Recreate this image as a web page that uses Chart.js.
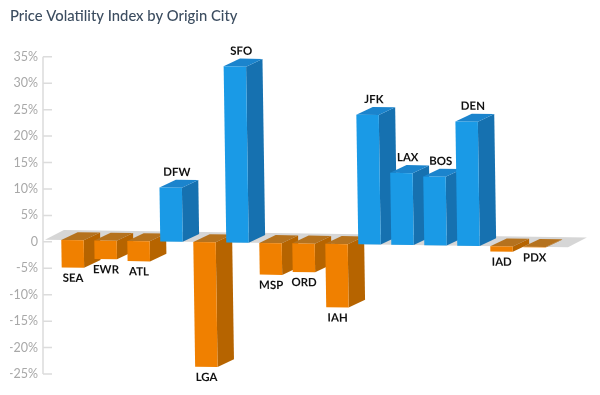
<!DOCTYPE html>
<html><head><meta charset="utf-8">
<style>html,body{margin:0;padding:0;background:#fff}#w{width:600px;height:395px;position:relative}</style>
<script src="https://cdn.jsdelivr.net/npm/chart.js@4"></script></head>
<body><div id="w"><canvas id="c" width="600" height="395"></canvas></div>
<script>
const cities = ['SEA','EWR','ATL','DFW','LGA','SFO','MSP','ORD','IAH','JFK','LAX','BOS','DEN','IAD','PDX'];
const volatility = [-5.2,-3.5,-3.8,10.2,-23.6,33.3,-6,-5.4,-12,24.5,13.6,13,23.5,-1,-0.1];
const titleText = 'Price Volatility Index by Origin City';
const FONT = 'Lato, "Open Sans", sans-serif';
const DX = 16.5, DY = 8;
const pos = {front:'#1a9ae6', side:'#1671b0', top:'#1b84cd'};
const neg = {front:'#f08000', side:'#b66400', top:'#b5721e'};

const prism = {
  id:'prism',
  beforeDatasetsDraw(chart){
    const {ctx, scales:{y}} = chart;
    const zero = y.getPixelForValue(0);
    ctx.save();
    ctx.strokeStyle = '#dcdcdc'; ctx.lineWidth = 1.5;
    ctx.beginPath();
    ctx.moveTo(43, y.top); ctx.lineTo(43, y.bottom);
    y.ticks.forEach(t => { const p = y.getPixelForValue(t.value); ctx.moveTo(43,p); ctx.lineTo(52,p); });
    ctx.stroke();
    ctx.restore();
    ctx.save();
    ctx.transform(1, 0.0143, 0.015, 1, -0.015*zero, -0.0143*45 - 2);
    ctx.fillStyle = '#d6d6d6';
    ctx.beginPath();
    ctx.moveTo(45, zero); ctx.lineTo(568, zero);
    ctx.lineTo(568+19, zero-10); ctx.lineTo(45+19, zero-10);
    ctx.closePath(); ctx.fill();
    const meta = chart.getDatasetMeta(0);
    meta.data.forEach((b,i) => {
      const c = volatility[i] >= 0 ? pos : neg;
      const r = b.x + b.width/2, l = b.x - b.width/2;
      const up = Math.min(b.y, b.base), lo = Math.max(b.y, b.base);
      ctx.fillStyle = c.side;
      ctx.beginPath();
      ctx.moveTo(r,up); ctx.lineTo(r+DX,up-DY); ctx.lineTo(r+DX,lo-DY); ctx.lineTo(r,lo);
      ctx.closePath(); ctx.fill();
      ctx.fillStyle = c.top;
      ctx.beginPath();
      ctx.moveTo(l,up); ctx.lineTo(l+DX,up-DY); ctx.lineTo(r+DX,up-DY); ctx.lineTo(r,up);
      ctx.closePath(); ctx.fill();
    });
  },
  afterDatasetsDraw(chart){
    const {ctx} = chart;
    ctx.fillStyle = '#111';
    ctx.font = '700 11.5px ' + FONT;
    ctx.textAlign = 'center'; ctx.textBaseline = 'middle';
    chart.getDatasetMeta(0).data.forEach((b,i) => {
      if (volatility[i] >= 0) ctx.fillText(cities[i], b.x+6.5, b.y-15.5);
      else ctx.fillText(cities[i], b.x, b.y+10.5);
    });
    ctx.restore();
  }
};

new Chart(document.getElementById('c'), {
  type:'bar',
  data:{labels:cities, datasets:[{
    data:volatility,
    backgroundColor:volatility.map(v => v>=0 ? pos.front : neg.front),
    borderWidth:0, barPercentage:0.68, categoryPercentage:1, clip:false
  }]},
  plugins:[prism],
  options:{
    responsive:false, animation:false,
    layout:{padding:{left:10,right:49,top:0,bottom:21}},
    plugins:{
      legend:{display:false}, tooltip:{enabled:false},
      title:{display:true,text:titleText,align:'start',color:'#3c4d60',
        font:{family:FONT,size:14.8,weight:'500'},padding:{top:7,bottom:32}}
    },
    scales:{
      x:{display:false},
      y:{min:-25,max:35,grid:{display:false},border:{display:false},
        afterFit(s){s.width=46;},
        ticks:{stepSize:5,color:'#a8a8a8',font:{family:FONT,size:12.5},padding:10,
          callback:v => v===0 ? '0' : v+'%'}}
    }
  }
});
</script></body></html>
